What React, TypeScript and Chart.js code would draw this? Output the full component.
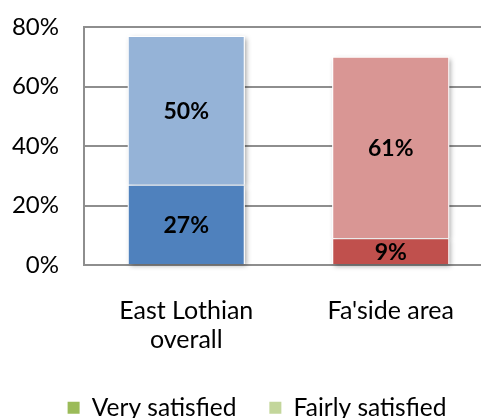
import React, { useEffect, useRef } from "react";
import { Chart, registerables } from "chart.js";

Chart.register(...registerables);

const categories: (string | string[])[] = [["East Lothian", "overall"], "Fa'side area"];
const seriesNames = ["Very satisfied", "Fairly satisfied"];
const verySatisfied = [27, 9];
const fairlySatisfied = [50, 61];
const yTicks = [0, 20, 40, 60, 80];

const veryColors = ["#4F81BD", "#C0504D"];
const fairlyColors = ["#95B3D7", "#D99694"];
const legendColors = ["#9BBB59", "#C3D69B"];

const FONT = "Lato, 'Open Sans', sans-serif";
const GRID = "#8e8e8e";

const shadowPlugin = {
  id: "barShadow",
  beforeDatasetsDraw(chart: any) {
    const ctx = chart.ctx;
    chart.data.datasets.forEach((_: any, di: number) => {
      const meta = chart.getDatasetMeta(di);
      meta.data.forEach((el: any) => {
        const p = el.getProps(["x", "y", "base", "width"], true);
        const top = Math.min(p.y, p.base);
        const h = Math.abs(p.base - p.y);
        ctx.save();
        ctx.shadowColor = "rgba(0,0,0,0.35)";
        ctx.shadowBlur = 5;
        ctx.shadowOffsetX = 2;
        ctx.shadowOffsetY = 2;
        ctx.fillStyle = "#ffffff";
        ctx.fillRect(p.x - p.width / 2, top, p.width, h);
        ctx.restore();
      });
    });
  },
};

const labelPlugin = {
  id: "barLabels",
  afterDatasetsDraw(chart: any) {
    const ctx = chart.ctx;
    ctx.save();
    ctx.font = `bold 23px ${FONT}`;
    ctx.fillStyle = "#000000";
    ctx.textAlign = "center";
    ctx.textBaseline = "middle";
    chart.data.datasets.forEach((ds: any, di: number) => {
      const meta = chart.getDatasetMeta(di);
      meta.data.forEach((el: any, i: number) => {
        const p = el.getProps(["x", "y", "base"], true);
        ctx.fillText(`${ds.data[i]}%`, p.x, (p.y + p.base) / 2 + 1);
      });
    });
    ctx.restore();
  },
};

export default function App() {
  const ref = useRef<HTMLCanvasElement | null>(null);

  useEffect(() => {
    if (!ref.current) return;
    Chart.defaults.font.family = FONT;
    const chart = new Chart(ref.current, {
      type: "bar",
      data: {
        labels: categories,
        datasets: [
          {
            label: seriesNames[0],
            data: verySatisfied,
            backgroundColor: veryColors,
            borderColor: "#ffffff",
            borderWidth: 1,
          },
          {
            label: seriesNames[1],
            data: fairlySatisfied,
            backgroundColor: fairlyColors,
            borderColor: "#ffffff",
            borderWidth: 1,
          },
        ],
      },
      options: {
        responsive: false,
        animation: false,
        devicePixelRatio: 1,
        datasets: {
          bar: { barPercentage: 0.572, categoryPercentage: 1 },
        },
        layout: { padding: { left: 0, right: 0, top: 27, bottom: 0 } },
        scales: {
          x: {
            stacked: true,
            grid: { display: false },
            border: { display: true, color: GRID, width: 2 },
            ticks: {
              color: "#000000",
              padding: 24,
              maxRotation: 0,
              autoSkip: false,
              font: { size: 25, lineHeight: 1.14 },
            },
            afterFit(scale: any) {
              scale.height = 97.5;
            },
          },
          y: {
            stacked: true,
            min: 0,
            max: 80,
            afterBuildTicks(scale: any) {
              scale.ticks = yTicks.map((v) => ({ value: v }));
            },
            grid: { color: GRID, lineWidth: 2, drawTicks: false },
            border: { display: true, color: GRID, width: 2 },
            ticks: {
              color: "#000000",
              padding: 25,
              font: { size: 24 },
              callback: (v: any) => `${v}%`,
            },
            afterFit(scale: any) {
              scale.width = 84;
              scale.paddingTop = 0;
              scale.paddingBottom = 0;
            },
          },
          yRightSpace: {
            type: "linear",
            position: "right",
            display: true,
            grid: { display: false, drawTicks: false },
            border: { display: false },
            ticks: { display: false },
            afterFit(scale: any) {
              scale.width = 21;
              scale.paddingTop = 0;
              scale.paddingBottom = 0;
            },
          },
        },
        plugins: {
          legend: {
            position: "bottom",
            labels: {
              color: "#000000",
              boxWidth: 12,
              boxHeight: 12,
              padding: 33,
              font: { size: 24.5 },
              generateLabels: () =>
                seriesNames.map((name, i) => ({
                  text: name,
                  fillStyle: legendColors[i],
                  strokeStyle: legendColors[i],
                  lineWidth: 0,
                  datasetIndex: i,
                  hidden: false,
                })),
            },
          },
          tooltip: { enabled: false },
        },
      },
      plugins: [shadowPlugin, labelPlugin],
    });
    return () => chart.destroy();
  }, []);

  return (
    <div
      style={{
        position: "fixed",
        left: 0,
        top: 0,
        width: 481,
        height: 418,
        overflow: "hidden",
        background: "#ffffff",
      }}
    >
      <canvas ref={ref} width={514} height={430} style={{ width: 514, height: 430, display: "block" }} />
    </div>
  );
}
